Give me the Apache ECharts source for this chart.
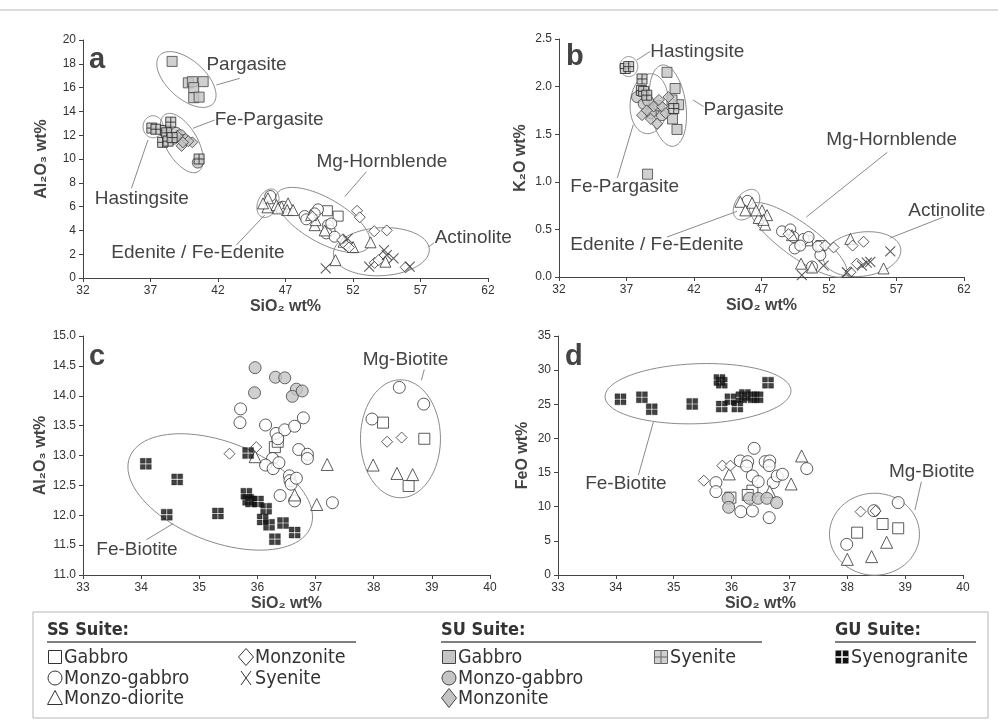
<!DOCTYPE html>
<html>
<head>
<meta charset="utf-8">
<script src="https://cdn.jsdelivr.net/npm/echarts@6/dist/echarts.min.js"></script>
<style>
  html, body { margin: 0; padding: 0; background: #fff; }
  #chart { width: 998px; height: 724px; }
</style>
</head>
<body>
<div id="chart"></div>
<script>
// ---------- amphibole: Al2O3 vs SiO2 (panel a) ----------
const ssGabbroA = [[50.1, 5.65], [50.9, 5.2]];
const ssMonzoGabbroA = [[45.87, 6.89], [46.8, 5.99], [48.42, 5.21], [48.54, 4.93], [49.41, 5.77], [49.16, 5.43],
  [50.15, 4.44], [50.27, 4.0], [50.02, 3.75], [50.64, 3.47], [50.39, 4.58]];
const ssMonzoDioriteA = [[45.7, 6.7], [45.66, 5.94], [45.34, 6.27], [46.33, 6.13], [46.7, 5.99], [47.19, 6.27],
  [47.12, 5.71], [47.56, 5.71], [46.45, 5.85], [49.16, 4.44], [49.9, 4.0], [49.23, 4.86], [48.9, 5.3],
  [52.0, 2.6], [51.3, 3.05], [53.3, 3.0], [54.4, 1.37], [50.7, 1.5]];
const ssMonzoniteA = [[49.0, 5.15], [52.3, 5.65], [52.5, 5.1], [51.2, 3.19], [51.46, 2.77], [51.7, 2.57],
  [53.57, 3.93], [54.5, 4.0], [53.6, 1.27], [53.9, 1.5], [55.9, 0.9]];
const ssSyeniteA = [[49.98, 0.81], [53.2, 0.95], [54.3, 2.35], [54.5, 1.93], [55.0, 1.65], [56.2, 0.95], [51.6, 3.3]];
const suGabbroA = [[38.6, 18.2], [39.8, 16.4], [40.1, 16.5], [40.9, 16.5], [40.2, 16.0], [40.2, 15.15], [40.6, 15.2]];
const suMonzoGabbroA = [[38.9, 12.2], [39.2, 12.0], [38.7, 11.7], [39.5, 11.6], [40.5, 9.7]];
const suMonzoniteA = [[39.0, 11.9], [39.3, 11.1], [39.6, 11.7], [40.1, 11.4], [39.8, 11.5], [39.4, 11.4]];
const suSyeniteA = [[37.1, 12.6], [37.4, 12.5], [38.1, 12.4], [38.2, 12.2], [38.5, 13.1], [37.9, 11.4],
  [38.3, 11.5], [38.6, 11.8], [40.6, 10.0]];

// ---------- amphibole: K2O vs SiO2 (panel b) ----------
const ssGabbroB = [[50.4, 0.38], [51.4, 0.33]];
const ssMonzoGabbroB = [[45.97, 0.8], [48.52, 0.48], [49.14, 0.5], [49.38, 0.42], [50.12, 0.4], [50.49, 0.42],
  [49.46, 0.3], [51.36, 0.23], [49.87, 0.33], [50.74, 0.11], [51.2, 0.32]];
const ssMonzoDioriteB = [[45.43, 0.79], [45.8, 0.7], [46.3, 0.78], [47.04, 0.7], [47.41, 0.65], [46.79, 0.62],
  [47.27, 0.55], [47.15, 0.6], [46.6, 0.7], [49.26, 0.44], [49.93, 0.14], [50.74, 0.1], [53.58, 0.4], [56.04, 0.09]];
const ssMonzoniteB = [[49.0, 0.45], [51.73, 0.33], [52.34, 0.31], [53.75, 0.33], [54.56, 0.37], [54.07, 0.14], [53.58, 0.05]];
const ssSyeniteB = [[51.6, 0.12], [49.99, 0.02], [53.33, 0.05], [54.44, 0.12], [55.06, 0.16], [56.54, 0.27], [54.8, 0.15]];
const suGabbroB = [[40.0, 2.15], [40.6, 1.98], [40.86, 1.81], [40.37, 1.86], [40.41, 1.66], [40.74, 1.55], [38.56, 1.08]];
const suMonzoGabbroB = [[37.78, 1.89], [38.27, 1.82], [38.6, 1.85], [39.63, 1.7], [39.0, 1.75], [39.4, 1.8], [38.8, 1.72]];
const suMonzoniteB = [[38.15, 1.7], [39.26, 1.61], [40.1, 1.89], [39.0, 1.79], [38.5, 1.75], [39.63, 1.79],
  [39.9, 1.72], [38.8, 1.66], [39.4, 1.86]];
const suSyeniteB = [[36.91, 2.19], [37.16, 2.21], [38.15, 2.08], [38.1, 1.96], [38.27, 1.95], [38.5, 1.91], [40.5, 1.77]];

// ---------- biotite: Al2O3 vs SiO2 (panel c) ----------
const ssGabbroC = [[36.3, 13.14], [36.35, 13.23], [38.16, 13.55], [38.87, 13.28], [38.6, 12.49]];
const ssMonzoGabbroC = [[35.71, 13.78], [35.7, 13.55], [36.14, 13.51], [36.32, 13.37], [36.47, 13.43], [36.64, 13.49],
  [36.79, 13.63], [36.35, 13.28], [36.71, 13.1], [36.86, 13.02], [36.86, 12.95], [36.26, 12.95], [36.14, 12.84],
  [36.27, 12.78], [36.37, 12.88], [36.55, 12.66], [36.56, 12.58], [36.58, 12.52], [36.67, 12.62], [36.39, 12.33],
  [36.64, 12.24], [37.29, 12.21], [38.44, 14.14], [38.86, 13.86], [37.97, 13.61]];
const ssMonzoDioriteC = [[35.96, 12.98], [36.64, 12.34], [37.02, 12.18], [37.2, 12.85], [37.99, 12.84], [38.4, 12.7], [38.67, 12.68]];
const ssMonzoniteC = [[35.52, 13.03], [35.98, 13.14], [38.23, 13.23], [38.48, 13.3]];
const suMonzoGabbroC = [[35.96, 14.47], [35.95, 14.05], [36.31, 14.31], [36.47, 14.3], [36.67, 14.11], [36.6, 13.99], [36.77, 14.08]];
const guSyenograniteC = [[34.08, 12.86], [34.62, 12.6], [34.44, 12.01], [35.32, 12.03], [35.84, 13.04], [35.81, 12.36],
  [35.84, 12.26], [35.89, 12.23], [36.01, 12.23], [36.15, 12.11], [36.09, 11.93], [36.2, 11.84], [36.3, 11.6],
  [36.44, 11.87], [36.64, 11.71]];

// ---------- biotite: FeO vs SiO2 (panel d) ----------
const ssGabbroD = [[35.98, 11.33], [36.36, 12.35], [36.28, 11.72], [38.17, 6.2], [38.61, 7.47], [38.88, 6.84]];
const ssMonzoGabbroD = [[36.39, 18.55], [36.15, 16.7], [36.28, 16.6], [36.26, 15.97], [36.58, 16.6], [36.66, 16.7],
  [36.65, 16.02], [36.36, 14.5], [36.46, 13.67], [36.72, 13.53], [36.79, 14.5], [36.88, 14.75], [37.3, 15.58],
  [35.73, 13.53], [35.73, 12.21], [36.16, 9.28], [36.36, 9.38], [36.65, 8.4], [37.99, 4.49], [38.46, 9.42], [38.88, 10.6]];
const ssMonzoDioriteD = [[35.96, 14.8], [37.21, 17.43], [37.03, 13.33], [36.66, 12.21], [38.0, 2.29], [38.42, 2.69], [38.68, 4.79]];
const ssMonzoniteD = [[35.84, 16.02], [35.98, 16.02], [35.52, 13.82], [38.23, 9.28], [38.49, 9.38]];
const suMonzoGabbroD = [[35.94, 11.23], [35.95, 9.91], [36.31, 11.23], [36.46, 11.23], [36.61, 11.23], [36.78, 10.6]];
const guSyenograniteD = [[34.08, 25.73], [34.45, 26.03], [34.62, 24.27], [35.32, 25.05], [35.79, 28.56], [35.83, 28.17],
  [35.83, 24.66], [35.98, 25.73], [36.1, 24.66], [36.17, 26.03], [36.23, 26.37], [36.38, 26.03], [36.45, 26.03], [36.63, 28.17]];

// ---------- axis ticks ----------
const amphSiTicks = { min: 32, max: 62, step: 5 };
const bioSiTicks = { min: 33, max: 40, step: 1 };
const amphAlTicks = { min: 0, max: 20, step: 2 };
const amphKTicks = { min: 0, max: 2.5, step: 0.5 };
const bioAlTicks = { min: 11, max: 15, step: 0.5 };
const bioFeTicks = { min: 0, max: 35, step: 5 };

// ---------- classification fields (centre in data units; radii in px) ----------
const fieldsA = {
  ellipses: [
    { c: [39.66, 16.68], rx: 36, ry: 19, rot: 42 },
    { c: [39.31, 11.34], rx: 33, ry: 16, rot: 60 },
    { c: [37.19, 12.71], rx: 10, ry: 11, rot: 0 },
    { c: [45.7, 6.28], rx: 15, ry: 10, rot: -65 },
    { c: [49.78, 4.87], rx: 53, ry: 22, rot: 30 },
    { c: [54.1, 2.21], rx: 48, ry: 24, rot: -3 }
  ],
  labels: [
    { t: 'Pargasite', p: [41.14, 17.9] },
    { t: 'Fe-Pargasite', p: [41.76, 13.28] },
    { t: 'Hastingsite', p: [32.87, 6.7] },
    { t: 'Mg-Hornblende', p: [49.29, 9.77] },
    { t: 'Edenite / Fe-Edenite', p: [34.1, 2.08] },
    { t: 'Actinolite', p: [58.05, 3.34] }
  ],
  leaders: [
    [[41.88, 16.22], [43.61, 16.78]],
    [[40.15, 12.58], [41.76, 13.28]],
    [[35.59, 7.54], [36.81, 11.6]],
    [[51.39, 6.83], [52.99, 8.93]],
    [[43.36, 2.77], [45.46, 5.29]],
    [[57.6, 2.62], [58.0, 2.95]]
  ]
};
const fieldsB = {
  ellipses: [
    { c: [37.17, 2.21], rx: 9, ry: 10, rot: 0 },
    { c: [38.68, 1.82], rx: 30, ry: 19, rot: 95 },
    { c: [40.06, 1.8], rx: 41, ry: 18, rot: 82 },
    { c: [45.89, 0.76], rx: 17, ry: 11, rot: -55 },
    { c: [49.72, 0.39], rx: 59, ry: 17, rot: 36 },
    { c: [54.45, 0.24], rx: 39, ry: 22, rot: -8 }
  ],
  labels: [
    { t: 'Hastingsite', p: [38.76, 2.37] },
    { t: 'Pargasite', p: [42.71, 1.76] },
    { t: 'Fe-Pargasite', p: [32.84, 0.95] },
    { t: 'Mg-Hornblende', p: [51.79, 1.44] },
    { t: 'Edenite / Fe-Edenite', p: [32.84, 0.34] },
    { t: 'Actinolite', p: [57.87, 0.7] }
  ],
  leaders: [
    [[37.78, 2.28], [38.76, 2.37]],
    [[41.93, 1.86], [42.71, 1.79]],
    [[36.32, 1.04], [37.5, 1.6]],
    [[50.32, 0.63], [56.32, 1.31]],
    [[40.0, 0.42], [45.19, 0.69]],
    [[56.54, 0.41], [60.49, 0.63]]
  ]
};
const fieldsC = {
  ellipses: [
    { c: [35.36, 12.39], rx: 97, ry: 50, rot: 21 },
    { c: [38.46, 13.28], rx: 40, ry: 59, rot: 0 }
  ],
  labels: [
    { t: 'Mg-Biotite', p: [37.81, 14.61] },
    { t: 'Fe-Biotite', p: [33.23, 11.42] }
  ],
  leaders: [
    [[38.87, 14.44], [38.82, 14.26]],
    [[34.09, 11.59], [34.55, 11.86]]
  ]
};
const fieldsD = {
  ellipses: [
    { c: [35.42, 26.55], rx: 93, ry: 30, rot: -2 },
    { c: [38.47, 5.97], rx: 45, ry: 41, rot: 0 }
  ],
  labels: [
    { t: 'Fe-Biotite', p: [33.47, 13.33] },
    { t: 'Mg-Biotite', p: [38.72, 15.13] }
  ],
  leaders: [
    [[34.39, 14.64], [34.65, 22.45]],
    [[39.28, 13.66], [39.17, 9.52]]
  ]
};

const FONT = '"Liberation Sans", Arial, Helvetica, sans-serif';
const NARROW = '"Liberation Sans Narrow", "DejaVu Sans Condensed", "Liberation Sans", sans-serif';
const INK = '#333';
const GREY = '#c4c4c4';

// marker styles
const SYM = {
  square: 'rect',
  circle: 'circle',
  triangle: 'triangle',
  diamond: 'diamond',
  cross: 'path://M0,0L10,10M10,0L0,10',
  plusBox: 'path://M0,0H10V10H0ZM5,0V10M0,5H10',
  quad: 'path://M0,0H9V9H0ZM11,0H20V9H11ZM0,11H9V20H0ZM11,11H20V20H11Z'
};
const OPEN = { color: '#fff', borderColor: INK, borderWidth: 1 };
const FILLED = { color: GREY, borderColor: '#444', borderWidth: 1 };
const CROSS = { color: 'rgba(0,0,0,0)', borderColor: INK, borderWidth: 1.1 };
const PLUSBOX = { color: '#c9c9c9', borderColor: '#222', borderWidth: 1 };
const QUAD = { color: '#111', borderColor: '#111', borderWidth: 0.4 };

function pts(name, data, gi, symbol, style, size) {
  return {
    name: name, type: 'scatter', xAxisIndex: gi, yAxisIndex: gi, data: data,
    symbol: symbol, symbolSize: size, itemStyle: style, silent: true, z: 3
  };
}

function fieldSeries(gi, spec) {
  return {
    type: 'custom', xAxisIndex: gi, yAxisIndex: gi, silent: true, z: 2,
    data: [spec.ellipses[0].c],
    renderItem: function (params, api) {
      const children = [];
      spec.ellipses.forEach(function (e) {
        const p = api.coord(e.c);
        const th = e.rot * Math.PI / 180;
        const ring = [];
        for (let k = 0; k <= 90; k++) {
          const t = k / 90 * Math.PI * 2;
          const ux = e.rx * Math.cos(t), uy = e.ry * Math.sin(t);
          ring.push([p[0] + ux * Math.cos(th) - uy * Math.sin(th), p[1] + ux * Math.sin(th) + uy * Math.cos(th)]);
        }
        children.push({ type: 'polyline', shape: { points: ring }, style: { fill: null, stroke: '#8a8a8a', lineWidth: 1 } });
      });
      spec.leaders.forEach(function (l) {
        const a = api.coord(l[0]), b = api.coord(l[1]);
        children.push({ type: 'line', shape: { x1: a[0], y1: a[1], x2: b[0], y2: b[1] }, style: { stroke: '#8a8a8a', lineWidth: 1 } });
      });
      spec.labels.forEach(function (lb) {
        const p = api.coord(lb.p);
        children.push({ type: 'text', x: p[0], y: p[1],
          style: { text: lb.t, fill: '#444', fontSize: 19, fontFamily: FONT, align: 'left', verticalAlign: 'middle' } });
      });
      return { type: 'group', children: children };
    }
  };
}

function xAxis(gi, t) {
  return {
    gridIndex: gi, type: 'value', min: t.min, max: t.max, interval: t.step,
    name: 'SiO\u2082 wt%', nameLocation: 'middle', nameGap: 21,
    nameTextStyle: { fontSize: 16, fontWeight: 'bold', color: '#444', fontFamily: FONT },
    axisLine: { show: true, onZero: false, lineStyle: { color: '#444', width: 1 } },
    axisTick: { show: true, length: 4, lineStyle: { color: '#444' } },
    axisLabel: { color: INK, fontSize: 12, fontFamily: FONT, margin: 7 },
    splitLine: { show: false }
  };
}
function yAxis(gi, t, name, gap, dec) {
  return {
    gridIndex: gi, type: 'value', min: t.min, max: t.max, interval: t.step,
    name: name, nameLocation: 'middle', nameGap: gap,
    nameTextStyle: { fontSize: 16, fontWeight: 'bold', color: '#444', fontFamily: FONT },
    axisLine: { show: true, onZero: false, lineStyle: { color: '#444', width: 1 } },
    axisTick: { show: true, length: 4, lineStyle: { color: '#444' } },
    axisLabel: { color: INK, fontSize: 12, fontFamily: FONT, margin: 7,
      formatter: function (v) { return dec ? v.toFixed(dec) : String(v); } },
    splitLine: { show: false }
  };
}

// ---------- legend drawn as graphic elements ----------
function legendGlyph(kind, cx, cy) {
  const s = 6.5;
  const open = { fill: '#fff', stroke: INK, lineWidth: 1 };
  const grey = { fill: GREY, stroke: '#444', lineWidth: 1 };
  switch (kind) {
    case 'oSquare': return { type: 'rect', shape: { x: cx - s, y: cy - s, width: 2 * s, height: 2 * s }, style: open };
    case 'oCircle': return { type: 'circle', shape: { cx: cx, cy: cy, r: s + 0.5 }, style: open };
    case 'oTriangle': return { type: 'polygon', shape: { points: [[cx, cy - s - 1], [cx + s + 1, cy + s], [cx - s - 1, cy + s]] }, style: open };
    case 'oDiamond': return { type: 'polygon', shape: { points: [[cx, cy - s - 2], [cx + s + 1, cy], [cx, cy + s + 2], [cx - s - 1, cy]] }, style: open };
    case 'cross': return { type: 'group', children: [
      { type: 'line', shape: { x1: cx - 5, y1: cy - 7, x2: cx + 5, y2: cy + 7 }, style: { stroke: INK, lineWidth: 1 } },
      { type: 'line', shape: { x1: cx + 5, y1: cy - 7, x2: cx - 5, y2: cy + 7 }, style: { stroke: INK, lineWidth: 1 } }] };
    case 'gSquare': return { type: 'rect', shape: { x: cx - s, y: cy - s, width: 2 * s, height: 2 * s }, style: grey };
    case 'gCircle': return { type: 'circle', shape: { cx: cx, cy: cy, r: s + 0.5 }, style: grey };
    case 'gDiamond': return { type: 'polygon', shape: { points: [[cx, cy - s - 3], [cx + s + 1, cy], [cx, cy + s + 3], [cx - s - 1, cy]] }, style: grey };
    case 'plusBox': return { type: 'group', children: [
      { type: 'rect', shape: { x: cx - s, y: cy - s, width: 2 * s, height: 2 * s }, style: { fill: '#d0d0d0', stroke: '#666', lineWidth: 1 } },
      { type: 'line', shape: { x1: cx, y1: cy - s, x2: cx, y2: cy + s }, style: { stroke: '#666', lineWidth: 1 } },
      { type: 'line', shape: { x1: cx - s, y1: cy, x2: cx + s, y2: cy }, style: { stroke: '#666', lineWidth: 1 } }] };
    case 'quad': return { type: 'group', children: [
      { type: 'rect', shape: { x: cx - s, y: cy - s, width: 2 * s, height: 2 * s }, style: { fill: '#111' } },
      { type: 'line', shape: { x1: cx, y1: cy - s, x2: cx, y2: cy + s }, style: { stroke: '#fff', lineWidth: 1.5 } },
      { type: 'line', shape: { x1: cx - s, y1: cy, x2: cx + s, y2: cy }, style: { stroke: '#fff', lineWidth: 1.5 } }] };
  }
}

const legendGroups = [
  { title: 'SS Suite:', x: 47, lineEnd: 356, cols: [
    { x: 55, items: [['oSquare', 'Gabbro'], ['oCircle', 'Monzo-gabbro'], ['oTriangle', 'Monzo-diorite']] },
    { x: 246, items: [['oDiamond', 'Monzonite'], ['cross', 'Syenite']] }] },
  { title: 'SU Suite:', x: 441, lineEnd: 762, cols: [
    { x: 449, items: [['gSquare', 'Gabbro'], ['gCircle', 'Monzo-gabbro'], ['gDiamond', 'Monzonite']] },
    { x: 661, items: [['plusBox', 'Syenite']] }] },
  { title: 'GU Suite:', x: 835, lineEnd: 976, cols: [
    { x: 842, items: [['quad', 'Syenogranite']] }] }
];
const legendRows = [657, 678, 698];

const graphics = [
  { type: 'line', shape: { x1: 0, y1: 10, x2: 998, y2: 10 }, style: { stroke: '#b5b5b5', lineWidth: 1 } },
  { type: 'rect', shape: { x: 33, y: 612, width: 955, height: 106 }, style: { fill: null, stroke: '#b5b5b5', lineWidth: 1 } }
];
// panel letters (bottom of box sits just under the baseline)
[['a', 89, 74], ['b', 566, 71], ['c', 89, 371], ['d', 565, 371]].forEach(function (l) {
  graphics.push({ type: 'text', x: l[1], y: l[2],
    style: { text: l[0], fill: '#444', fontSize: 29, fontWeight: 'bold', fontFamily: FONT, verticalAlign: 'bottom' } });
});
legendGroups.forEach(function (g) {
  graphics.push({ type: 'text', x: g.x, y: 630,
    style: { text: g.title, fill: INK, fontSize: 18, fontWeight: 'bold', fontFamily: NARROW, verticalAlign: 'middle' } });
  graphics.push({ type: 'line', shape: { x1: g.x, y1: 642, x2: g.lineEnd, y2: 642 }, style: { stroke: '#555', lineWidth: 1.5 } });
  g.cols.forEach(function (col) {
    col.items.forEach(function (it, r) {
      const cy = legendRows[r];
      graphics.push(legendGlyph(it[0], col.x, cy));
      graphics.push({ type: 'text', x: col.x + 9, y: cy + 1,
        style: { text: it[1], fill: INK, fontSize: 19.5, fontFamily: NARROW, verticalAlign: 'middle' } });
    });
  });
});

const option = {
  backgroundColor: '#fff',
  animation: false,
  grid: [
    { left: 83, top: 40, width: 405, height: 238 },
    { left: 559, top: 39, width: 405, height: 238 },
    { left: 83, top: 336, width: 407, height: 239 },
    { left: 558, top: 336, width: 405, height: 239 }
  ],
  xAxis: [xAxis(0, amphSiTicks), xAxis(1, amphSiTicks), xAxis(2, bioSiTicks), xAxis(3, bioSiTicks)],
  yAxis: [
    yAxis(0, amphAlTicks, 'Al\u2082O\u2083 wt%', 33, 0),
    yAxis(1, amphKTicks, 'K\u2082O wt%', 30, 1),
    yAxis(2, bioAlTicks, 'Al\u2082O\u2083 wt%', 33, 1),
    yAxis(3, bioFeTicks, 'FeO wt%', 27, 0)
  ],
  graphic: graphics,
  series: [
    fieldSeries(0, fieldsA), fieldSeries(1, fieldsB), fieldSeries(2, fieldsC), fieldSeries(3, fieldsD),
    // panel a
    pts('SU Gabbro', suGabbroA, 0, SYM.square, FILLED, 10),
    pts('SU Monzo-gabbro', suMonzoGabbroA, 0, SYM.circle, FILLED, 11),
    pts('SU Monzonite', suMonzoniteA, 0, SYM.diamond, FILLED, 11),
    pts('SU Syenite', suSyeniteA, 0, SYM.plusBox, PLUSBOX, 10),
    pts('SS Gabbro', ssGabbroA, 0, SYM.square, OPEN, 10),
    pts('SS Monzo-gabbro', ssMonzoGabbroA, 0, SYM.circle, OPEN, 11),
    pts('SS Monzo-diorite', ssMonzoDioriteA, 0, SYM.triangle, OPEN, 11),
    pts('SS Monzonite', ssMonzoniteA, 0, SYM.diamond, OPEN, 11),
    pts('SS Syenite', ssSyeniteA, 0, SYM.cross, CROSS, 10),
    // panel b
    pts('SU Gabbro', suGabbroB, 1, SYM.square, FILLED, 10),
    pts('SU Monzo-gabbro', suMonzoGabbroB, 1, SYM.circle, FILLED, 11),
    pts('SU Monzonite', suMonzoniteB, 1, SYM.diamond, FILLED, 11),
    pts('SU Syenite', suSyeniteB, 1, SYM.plusBox, PLUSBOX, 10),
    pts('SS Gabbro', ssGabbroB, 1, SYM.square, OPEN, 10),
    pts('SS Monzo-gabbro', ssMonzoGabbroB, 1, SYM.circle, OPEN, 11),
    pts('SS Monzo-diorite', ssMonzoDioriteB, 1, SYM.triangle, OPEN, 11),
    pts('SS Monzonite', ssMonzoniteB, 1, SYM.diamond, OPEN, 11),
    pts('SS Syenite', ssSyeniteB, 1, SYM.cross, CROSS, 10),
    // panel c
    pts('SS Gabbro', ssGabbroC, 2, SYM.square, OPEN, 11),
    pts('SS Monzo-gabbro', ssMonzoGabbroC, 2, SYM.circle, OPEN, 12),
    pts('SS Monzo-diorite', ssMonzoDioriteC, 2, SYM.triangle, OPEN, 12),
    pts('SS Monzonite', ssMonzoniteC, 2, SYM.diamond, OPEN, 11),
    pts('SU Monzo-gabbro', suMonzoGabbroC, 2, SYM.circle, FILLED, 12),
    pts('GU Syenogranite', guSyenograniteC, 2, SYM.quad, QUAD, 11),
    // panel d
    pts('SS Gabbro', ssGabbroD, 3, SYM.square, OPEN, 11),
    pts('SS Monzo-gabbro', ssMonzoGabbroD, 3, SYM.circle, OPEN, 12),
    pts('SS Monzo-diorite', ssMonzoDioriteD, 3, SYM.triangle, OPEN, 12),
    pts('SS Monzonite', ssMonzoniteD, 3, SYM.diamond, OPEN, 11),
    pts('SU Monzo-gabbro', suMonzoGabbroD, 3, SYM.circle, FILLED, 12),
    pts('GU Syenogranite', guSyenograniteD, 3, SYM.quad, QUAD, 11)
  ]
};

const chart = echarts.init(document.getElementById('chart'), null, { renderer: 'canvas' });
chart.setOption(option);
</script>
</body>
</html>
